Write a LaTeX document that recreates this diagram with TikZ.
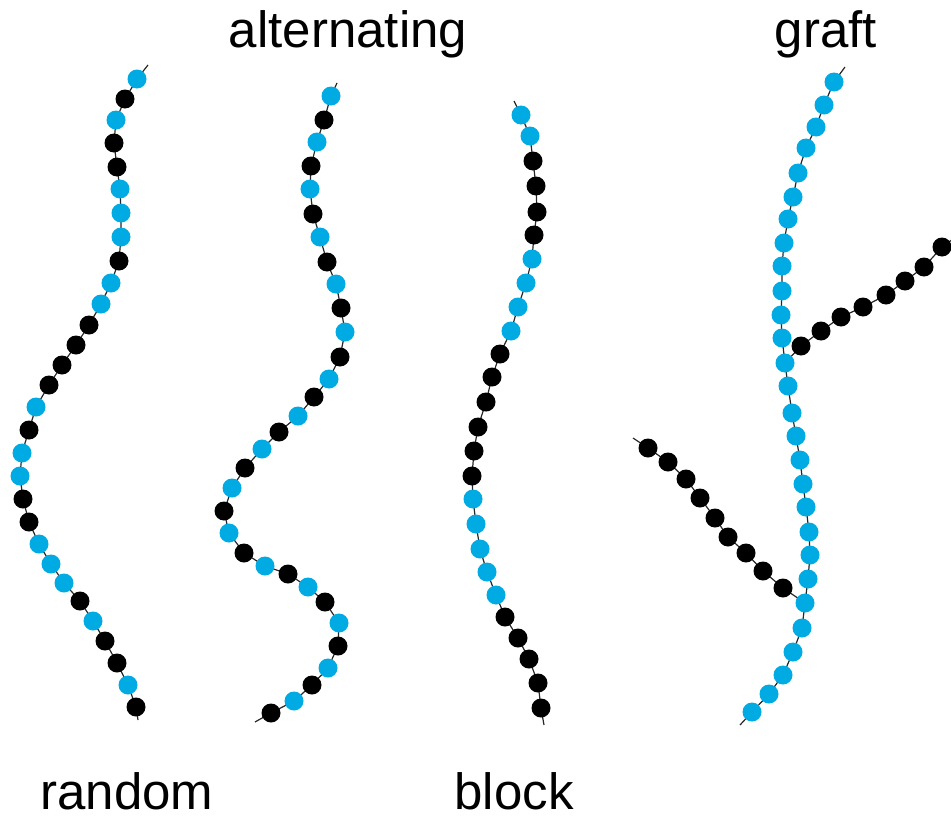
\documentclass[tikz,border=0pt]{standalone}
\usepackage{fontspec}
\setmainfont{Liberation Sans}
\usetikzlibrary{backgrounds}
\definecolor{beadblue}{RGB}{0,170,226}
\tikzset{
  bead/.style={circle,inner sep=0pt,minimum size=19pt},
  blu/.style={bead,fill=beadblue},
  blk/.style={bead,fill=black},
  chain/.style={line width=1.2pt,black!85},
  lbl/.style={anchor=base,font=\fontsize{51}{60}\selectfont}
}
\begin{document}
\begin{tikzpicture}[x=1pt,y=-1pt]
    \useasboundingbox (0,0) rectangle (951,819);
    \node [lbl] (L0) at (127,809) {random};
    \node [lbl] (L1) at (348,47) {alternating};
    \node [lbl] (L2) at (514,809) {block};
    \node [lbl] (L3) at (826,47) {graft};
    % random
    \coordinate (r0) at (148,65);
    \coordinate (rE) at (138,720);
    \foreach \x/\y/\c [count=\i] in {137/79/blu,125/99/blk,116/120/blu,114/143/blk,117/167/blk,
      120/189/blu,121/213/blu,121/237/blu,119/261/blk,111/283/blu,101/304/blu,89/325/blk,
      76/345/blk,62/365/blk,49/385/blk,36/407/blu,29/430/blk,22/453/blu,20/476/blu,23/499/blk,
      29/522/blk,39/544/blu,51/564/blu,64/583/blu,80/601/blk,93/621/blu,105/641/blk,
      117/663/blk,128/685/blu,136/707/blk}
      \node [\c] (r\i) at (\x,\y) {};
    % alternating
    \coordinate (a0) at (337,83);
    \coordinate (aE) at (255,722);
    \foreach \x/\y/\c [count=\i] in {331/96/blu,324/120/blk,317/142/blu,311/166/blk,310/189/blu,
      313/214/blk,320/237/blu,327/262/blk,336/284/blu,341/308/blk,345/332/blu,340/357/blk,
      329/379/blu,314/397/blk,298/416/blu,279/432/blk,262/449/blu,245/468/blk,232/488/blu,
      224/511/blk,229/533/blu,244/553/blk,265/566/blu,288/574/blk,308/587/blu,325/602/blk,
      339/623/blu,338/646/blk,328/668/blu,312/685/blk,294/701/blu,271/713/blk}
      \node [\c] (a\i) at (\x,\y) {};
    % block
    \coordinate (b0) at (514,101);
    \coordinate (bE) at (544,725);
    \foreach \x/\y/\c [count=\i] in {521/115/blu,530/136/blu,533/161/blk,536/186/blk,537/212/blk,
      534/235/blk,532/259/blu,526/283/blu,518/307/blu,511/331/blu,500/354/blk,492/377/blk,
      486/402/blk,478/427/blk,474/451/blk,472/476/blk,473/499/blu,476/524/blu,480/549/blu,
      487/572/blu,496/595/blu,505/617/blk,518/638/blk,529/659/blk,538/683/blk,541/708/blk}
      \node [\c] (b\i) at (\x,\y) {};
    % graft: backbone and two side chains
    \coordinate (g0) at (845,67);
    \coordinate (gE) at (740,725);
    \foreach \x/\y [count=\i] in {834/82,824/105,816/127,806/148,798/173,793/197,788/219,
      784/243,782/266,782/291,781/315,782/338,785/363,788/386,792/413,796/436,800/460,
      803/484,806/507,809/532,810/555,808/579,805/603,802/628,793/652,783/675,769/694,752/712}
      \node [blu] (g\i) at (\x,\y) {};
    \coordinate (uE) at (953,239);
    \foreach \x/\y [count=\i] in {801/346,821/331,841/317,863/307,886/295,905/281,924/267,942/247}
      \node [blk] (u\i) at (\x,\y) {};
    \coordinate (l0) at (633,438);
    \foreach \x/\y [count=\i] in {648/448,668/462,686/479,700/498,715/518,728/537,746/553,
      763/571,783/588}
      \node [blk] (l\i) at (\x,\y) {};
    \begin{pgfonlayer}{background}
      \draw [chain] (r0) \foreach \i in {1,...,30} {-- (r\i.center)} -- (rE);
      \draw [chain] (a0) \foreach \i in {1,...,32} {-- (a\i.center)} -- (aE);
      \draw [chain] (b0) \foreach \i in {1,...,26} {-- (b\i.center)} -- (bE);
      \draw [chain] (g0) \foreach \i in {1,...,28} {-- (g\i.center)} -- (gE);
      \draw [chain] (g13.center) \foreach \i in {1,...,8} {-- (u\i.center)} -- (uE);
      \draw [chain] (l0) \foreach \i in {1,...,9} {-- (l\i.center)} -- (g23.center);
    \end{pgfonlayer}
\end{tikzpicture}
\end{document}
